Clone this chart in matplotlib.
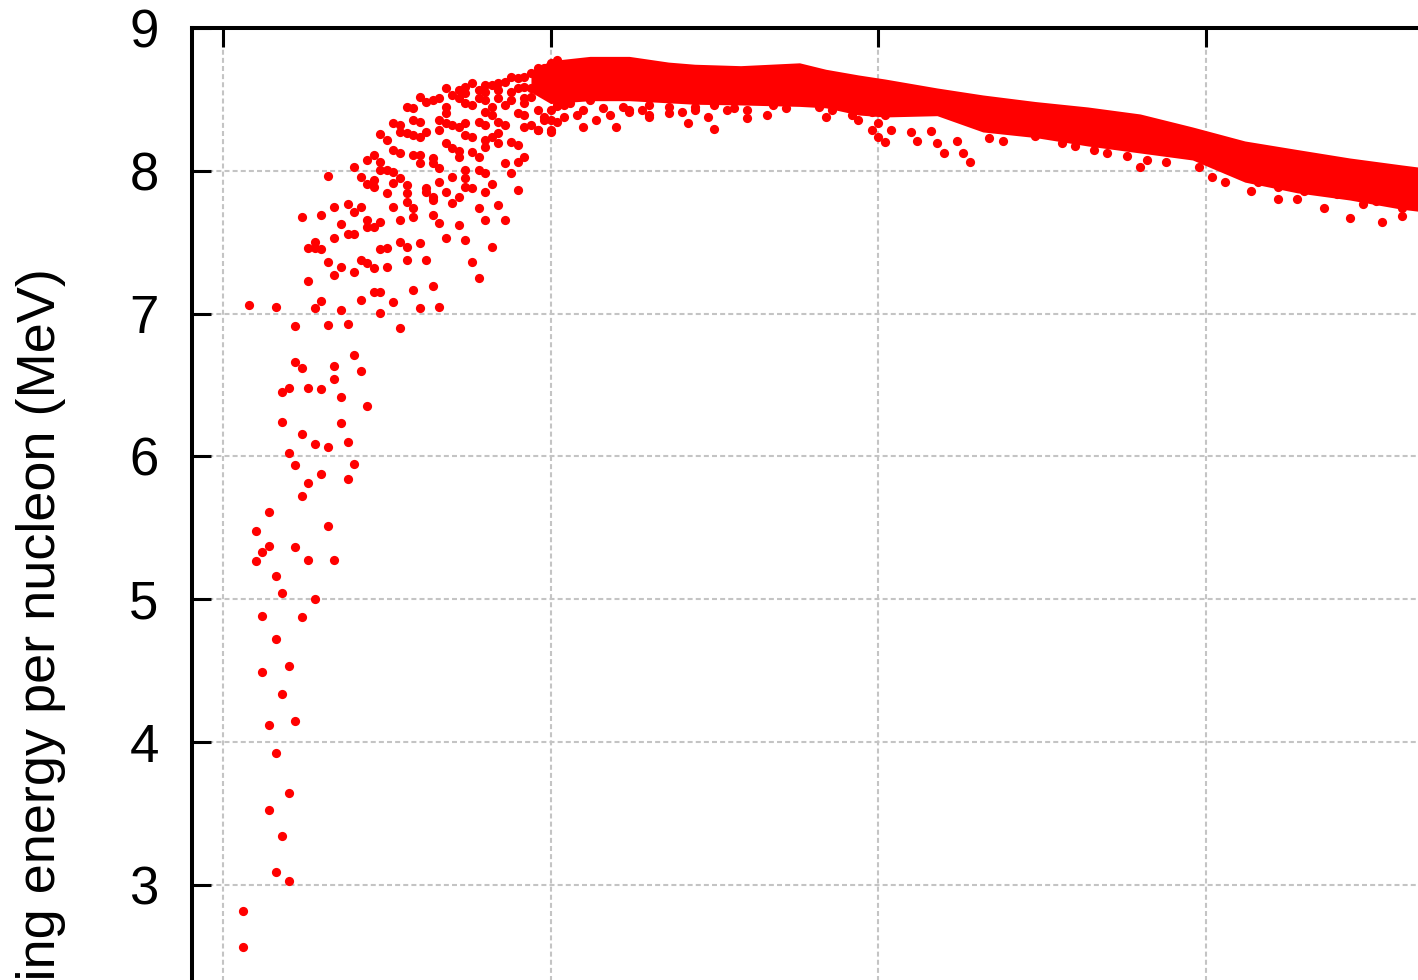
"""
binding_energy.py
=================

Binding energy per nucleon against mass number A, drawn in the look of the
original gnuplot figure (a cropped view: the axes run past the right and
bottom edges of the picture, so only the upper-left part is visible).
"""
import matplotlib

matplotlib.use("Agg")  # headless
import matplotlib.pyplot as plt

# --- light nuclides, one scatter point each (A, B/A in MeV) ---------------
light_A = [
    2,
    3, 3,
    4,
    5, 5,
    6, 6, 6,
    7, 7, 7, 7,
    8, 8, 8, 8, 8,
    9, 9, 9, 9, 9,
    10, 10, 10, 10, 10,
    11, 11, 11, 11, 11,
    12, 12, 12, 12, 12,
    13, 13, 13, 13, 13,
    14, 14, 14, 14, 14,
    15, 15, 15, 15, 15,
    16, 16, 16, 16, 16,
    17, 17, 17, 17, 17, 17,
    18, 18, 18, 18, 18,
    19, 19, 19, 19, 19,
    20, 20, 20, 20, 20, 20,
    21, 21, 21, 21, 21,
    22, 22, 22, 22, 22, 22,
    23, 23, 23, 23, 23, 23,
    24, 24, 24, 24, 24, 24, 24,
    25, 25, 25, 25, 25,
    26, 26, 26, 26, 26, 26,
    27, 27, 27, 27, 27, 27, 27,
    28, 28, 28, 28, 28, 28, 28,
    29, 29, 29, 29, 29, 29, 29,
    30, 30, 30, 30, 30, 30, 30,
    31, 31, 31, 31, 31,
    32, 32, 32, 32, 32, 32, 32,
    33, 33, 33, 33, 33, 33, 33,
    34, 34, 34, 34, 34, 34, 34,
    35, 35, 35, 35, 35,
    36, 36, 36, 36, 36, 36, 36,
    37, 37, 37, 37, 37, 37, 37, 37, 37,
    38, 38, 38, 38, 38, 38,
    39, 39, 39, 39, 39, 39, 39,
    40, 40, 40, 40, 40, 40, 40, 40, 40, 40,
    41, 41, 41, 41, 41, 41,
    42, 42, 42, 42, 42, 42, 42,
    43, 43, 43, 43, 43,
    44, 44, 44, 44, 44,
    45, 45, 45, 45, 45, 45,
    46, 46, 46, 46, 46, 46, 46,
    47, 47, 47, 47,
    48, 48, 48, 48,
    49, 49, 49, 49,
    50, 50, 50, 50, 50, 50, 50,
    51, 51,
]
light_be = [
    1.112,
    2.82, 2.568,
    7.058,
    5.48, 5.268,
    4.883, 4.489, 5.333,
    4.118, 3.525, 5.609, 5.373,
    4.72, 3.922, 3.093, 5.163, 7.048,
    4.339, 3.345, 6.449, 6.243, 5.042,
    4.533, 3.642, 3.03, 6.477, 6.022,
    4.15, 6.913, 6.663, 5.94, 5.366,
    4.88, 6.617, 6.155, 5.725, 7.678,
    6.481, 5.812, 5.275, 7.457, 7.228,
    6.087, 5.0, 7.503, 7.457, 7.037,
    6.47, 5.875, 7.69, 7.45, 7.09,
    6.92, 6.068, 5.515, 7.965, 7.363,
    6.633, 6.54, 5.275, 7.748, 7.527, 7.268,
    6.414, 6.236, 7.625, 7.328, 7.025,
    6.927, 6.101, 5.84, 7.767, 7.557,
    6.71, 5.947, 8.024, 7.713, 7.557, 7.293,
    6.598, 7.958, 7.748, 7.375, 7.095,
    6.353, 8.075, 7.907, 7.655, 7.608, 7.356,
    8.11, 7.935, 7.888, 7.608, 7.321, 7.151,
    8.257, 7.45, 7.002, 8.063, 8.005, 7.643, 7.153,
    8.215, 8.005, 7.842, 7.457, 7.328,
    8.332, 8.145, 7.993, 7.912, 7.748, 7.083,
    8.32, 8.273, 8.122, 7.947, 7.655, 7.503, 6.897,
    8.448, 8.262, 7.9, 7.842, 7.783, 7.468, 7.375,
    8.437, 8.355, 8.25, 8.11, 7.737, 7.678, 7.165,
    8.518, 8.343, 8.238, 8.11, 8.052, 7.496, 7.037,
    8.483, 8.273, 7.877, 7.853, 7.375,
    8.495, 8.087, 8.052, 7.818, 7.795, 7.69, 7.193,
    8.507, 8.355, 8.285, 8.017, 7.923, 7.632, 7.044,
    8.577, 8.448, 8.402, 8.332, 8.192, 7.853, 7.527,
    8.53, 8.32, 8.157, 7.958, 7.776,
    8.565, 8.507, 8.308, 8.14, 8.098, 7.818, 7.62,
    8.588, 8.542, 8.472, 8.332, 8.25, 8.005, 7.947, 7.888, 7.515,
    8.612, 8.46, 8.238, 8.133, 7.88, 7.363,
    8.565, 8.507, 8.343, 8.098, 8.005, 7.737, 7.247,
    8.6, 8.553, 8.495, 8.413, 8.32, 8.215, 8.168, 7.982, 7.853, 7.655,
    8.6, 8.448, 8.39, 8.238, 7.905, 7.468,
    8.612, 8.565, 8.507, 8.343, 8.262, 8.192, 7.76,
    8.623, 8.46, 8.32, 8.052, 7.655,
    8.658, 8.553, 8.495, 8.203, 7.982,
    8.647, 8.577, 8.402, 8.18, 8.063, 7.865,
    8.658, 8.588, 8.507, 8.472, 8.39, 8.308, 8.098,
    8.682, 8.577, 8.518, 8.32,
    8.717, 8.647, 8.425, 8.285,
    8.717, 8.647, 8.588, 8.378,
    8.752, 8.682, 8.635, 8.53, 8.425, 8.355, 8.285,
    8.775, 8.46,
]

# --- heavy nuclides: the solid band, as upper / lower edges ---------------
band_A = [47, 50, 56, 62, 68, 72, 79, 88, 92, 97, 101, 109,
          116, 124, 132, 140, 148, 156, 164, 172, 180, 186]
band_top = [8.7, 8.77, 8.8, 8.8, 8.76, 8.745, 8.735, 8.755, 8.71, 8.67, 8.642, 8.579,
            8.53, 8.484, 8.446, 8.397, 8.306, 8.208, 8.148, 8.089, 8.04, 8.005]
band_bottom = [8.55, 8.47, 8.49, 8.49, 8.475, 8.465, 8.46, 8.45, 8.44, 8.39, 8.376, 8.385,
               8.271, 8.232, 8.173, 8.124, 8.075, 7.92, 7.845, 7.795, 7.73, 7.697]

# --- isolated points hanging below the band -------------------------------
tail_A = [48, 49, 50, 51, 51, 52, 52, 53, 54, 55, 55, 56, 57, 58, 59, 60,
          61, 62, 62, 64, 65, 65, 65, 68, 68, 70, 71, 72, 72, 74, 75, 75,
          77, 78, 80, 80, 83, 84, 86, 91, 92, 93, 94, 96, 96, 97, 99, 99,
          100, 100, 101, 101, 102, 102, 105, 106, 108, 109, 110, 112, 113, 114, 117, 119,
          124, 128, 130, 133, 135, 138, 140, 141, 144, 149, 151, 153, 157, 158, 161, 161,
          164, 165, 168, 170, 172, 174, 176, 177, 180, 180]
tail_be = [8.285, 8.355, 8.273, 8.453, 8.343, 8.46, 8.378, 8.472, 8.39, 8.304, 8.425, 8.495, 8.355, 8.437, 8.39, 8.308,
           8.448, 8.413, 8.425, 8.425, 8.39, 8.378, 8.46, 8.402, 8.448, 8.413, 8.332, 8.425, 8.448, 8.374, 8.29, 8.46,
           8.425, 8.437, 8.425, 8.367, 8.39, 8.46, 8.437, 8.448, 8.374, 8.425, 8.46, 8.39, 8.483, 8.355, 8.285, 8.413,
           8.332, 8.238, 8.2, 8.39, 8.285, 8.425, 8.268, 8.208, 8.281, 8.196, 8.124, 8.208, 8.124, 8.064, 8.232, 8.208,
           8.244, 8.196, 8.173, 8.148, 8.124, 8.1, 8.028, 8.076, 8.064, 8.028, 7.956, 7.92, 7.86, 7.92, 7.8, 7.884,
           7.8, 7.86, 7.74, 7.836, 7.668, 7.764, 7.788, 7.644, 7.68, 7.74]

x_ticks = [0, 50, 100, 150, 200, 250, 300]
y_ticks = [3, 4, 5, 6, 7, 8, 9]
y_label = "Binding energy per nucleon (MeV)"

RED = "#ff0000"
GRID = "#c4c4c4"
W, H = 1418, 980


def main():
    plt.rcParams["font.family"] = ["Liberation Sans", "DejaVu Sans"]

    fig = plt.figure(figsize=(W / 100, H / 100), dpi=100)
    # axes run off the right / bottom edge of the picture (cropped view)
    px_per_A, px_per_MeV = 6.55, 142.9
    x0, x1, y0, y1 = -4.75, 300, 0, 9
    left, top = 192, 27.8
    ax = fig.add_axes([left / W,
                       1 - (top + (y1 - y0) * px_per_MeV) / H,
                       (x1 - x0) * px_per_A / W,
                       (y1 - y0) * px_per_MeV / H])
    ax.set_xlim(x0, x1)
    ax.set_ylim(y0, y1)

    ax.fill_between(band_A, band_bottom, band_top, color=RED, lw=0, zorder=3)
    ax.scatter(light_A, light_be, s=44, c=RED, marker="o", linewidths=0, zorder=4)
    ax.scatter(tail_A, tail_be, s=44, c=RED, marker="o", linewidths=0, zorder=4)

    ax.set_xticks(x_ticks)
    ax.set_yticks(y_ticks)
    ax.set_axisbelow(True)
    ax.grid(True, color=GRID, linestyle=(0, (2.4, 1.5)), linewidth=1.5)
    ax.tick_params(direction="in", length=14, width=2.2, top=True, right=True,
                   labelsize=38, pad=24, colors="black")
    ax.tick_params(axis="x", labelbottom=False)  # below the visible crop
    for sp in ax.spines.values():
        sp.set_linewidth(2.9)

    fig.text(41 / W, 1 - 268 / H, y_label, rotation=90, ha="center", va="top",
             fontsize=39)

    fig.savefig("out.png", dpi=100)
    plt.close(fig)


if __name__ == "__main__":
    main()
